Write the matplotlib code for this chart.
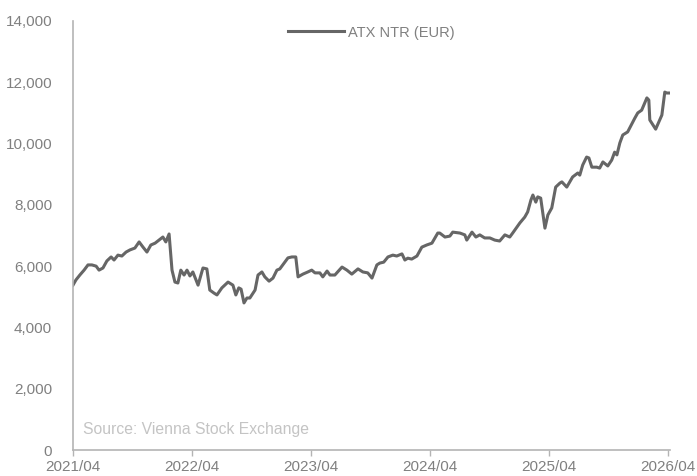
import matplotlib.pyplot as plt
import matplotlib.dates as mdates
import pandas as pd
from matplotlib.ticker import FuncFormatter

plt.rcParams['font.family'] = ['Liberation Sans', 'DejaVu Sans']

# ATX NTR (EUR), days after 2021-04-01 and index level
START_DATE = "2021-04-01"
day_offsets = [
    0, 9, 21, 34, 46, 58, 71, 80, 92, 104, 117, 126, 138, 150, 163, 175,
    190, 203, 215, 227, 239, 252, 264, 276, 285, 295, 301, 304, 313, 322,
    331, 341, 350, 359, 368, 384, 399, 411, 420, 433, 442, 457, 476, 491,
    500, 509, 516, 525, 534, 543, 559, 568, 580, 589, 602, 614, 626, 635,
    644, 660, 672, 684, 691, 706, 721, 733, 743, 758, 767, 780, 789, 804,
    826, 841, 856, 875, 890, 905, 918, 933, 942, 954, 967, 982, 994, 1010,
    1019, 1028, 1040, 1056, 1071, 1086, 1102, 1120, 1126, 1142, 1157, 1166,
    1188, 1203, 1209, 1225, 1237, 1249, 1264, 1280, 1295, 1310, 1326, 1341,
    1350, 1372, 1387, 1396, 1406, 1412, 1421, 1427, 1436, 1449, 1458, 1470,
    1482, 1495, 1501, 1516, 1534, 1550, 1556, 1565, 1577, 1584, 1593, 1608,
    1617, 1627, 1642, 1654, 1663, 1670, 1679, 1688, 1703, 1725, 1734, 1746,
    1762, 1768, 1771, 1789, 1808, 1817, 1823, 1832,
]
atx_ntr = [
    5380, 5550, 5710, 5870, 6040, 6040, 6000, 5870, 5940, 6170, 6300, 6200,
    6360, 6330, 6460, 6530, 6590, 6790, 6620, 6460, 6690, 6750, 6850, 6950,
    6790, 7050, 6260, 5870, 5480, 5450, 5870, 5710, 5870, 5680, 5810, 5380,
    5940, 5910, 5220, 5120, 5060, 5290, 5480, 5380, 5060, 5290, 5250, 4800,
    4960, 4960, 5220, 5710, 5810, 5650, 5510, 5610, 5870, 5910, 6040, 6270,
    6300, 6300, 5650, 5740, 5810, 5870, 5780, 5780, 5650, 5840, 5710, 5710,
    5970, 5870, 5740, 5910, 5810, 5780, 5610, 6040, 6100, 6130, 6300, 6360,
    6330, 6400, 6200, 6260, 6230, 6330, 6620, 6690, 6750, 7080, 7080, 6950,
    6980, 7110, 7080, 7020, 6850, 7110, 6950, 7020, 6920, 6920, 6850, 6820,
    7020, 6950, 7080, 7410, 7600, 7770, 8160, 8320, 8090, 8260, 8220, 7240,
    7670, 7900, 8580, 8710, 8750, 8580, 8910, 9040, 8970, 9300, 9560, 9530,
    9230, 9230, 9200, 9400, 9270, 9460, 9720, 9630, 10020, 10280, 10380,
    10830, 11000, 11090, 11490, 11420, 10770, 10470, 10930, 11680, 11650,
    11650,
]
tick_labels = ["2021/04", "2022/04", "2023/04", "2024/04", "2025/04", "2026/04"]

dates = pd.Timestamp(START_DATE) + pd.to_timedelta(day_offsets, unit="D")
tick_dates = [pd.Timestamp(t.replace("/", "-") + "-01") for t in tick_labels]

fig = plt.figure(figsize=(6.97, 4.76), dpi=100)
ax = fig.add_axes([73 / 697, 26 / 476, 597 / 697, 429 / 476])

ax.plot(dates, atx_ntr, color="#666666", linewidth=2.2, label="ATX NTR (EUR)",
        solid_joinstyle="round")

ax.set_ylim(0, 14000)
ax.set_yticks(range(0, 14001, 2000))
ax.yaxis.set_major_formatter(FuncFormatter(lambda v, _: f"{int(v):,}"))
ax.set_xlim(pd.Timestamp(START_DATE), pd.Timestamp("2026-04-08"))
ax.set_xticks(tick_dates)
ax.set_xticklabels(tick_labels)

for side in ("top", "right"):
    ax.spines[side].set_visible(False)
for side in ("left", "bottom"):
    ax.spines[side].set_color("#b4b4b4")
    ax.spines[side].set_linewidth(1.2)

ax.tick_params(axis="y", length=0, pad=15, labelsize=11, labelcolor="#808080")
ax.tick_params(axis="x", length=4, width=1, color="#b4b4b4", pad=3,
               labelsize=11, labelcolor="#808080")

leg = ax.legend(loc="upper center", bbox_to_anchor=(0.5, 1.02), frameon=False,
                fontsize=10.5, handlelength=3.8, handletextpad=0.3)
for txt in leg.get_texts():
    txt.set_color("#808080")

ax.text(0.017, 0.047, "Source: Vienna Stock Exchange", transform=ax.transAxes,
        fontsize=11.3, color="#c4c4c4", va="center", ha="left")

fig.savefig("out.png", dpi=100)
